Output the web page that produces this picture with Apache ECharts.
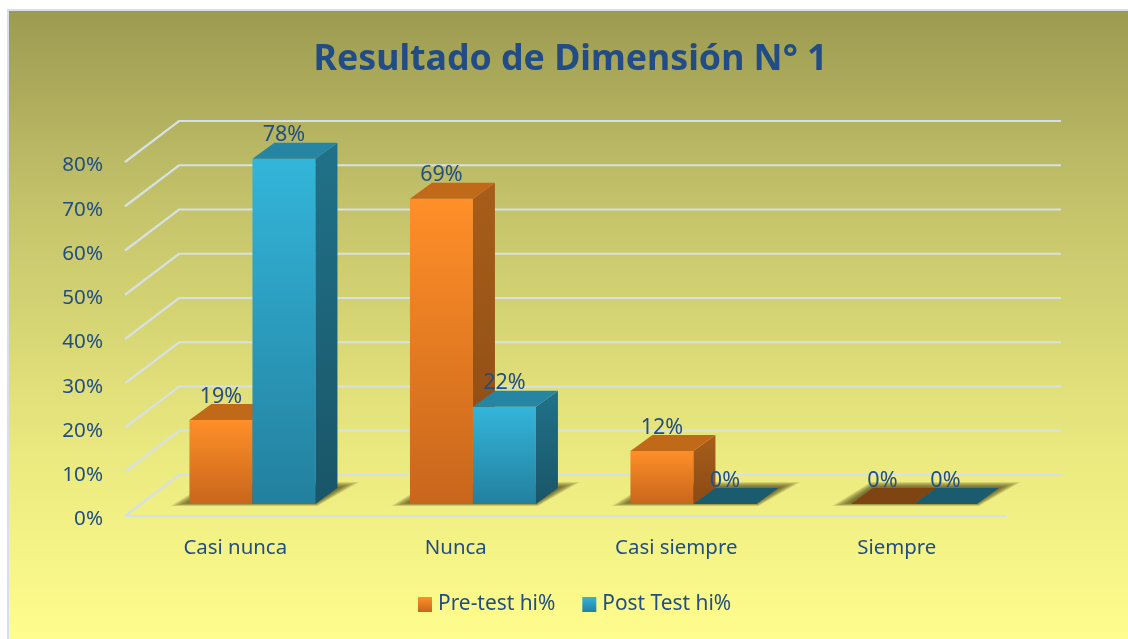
<!DOCTYPE html>
<html>
<head>
<meta charset="utf-8">
<style>html,body{margin:0;padding:0;background:#fff}#c{width:1128px;height:639px}</style>
<script src="https://cdn.jsdelivr.net/npm/echarts@6/dist/echarts.min.js"></script>
</head>
<body>
<div id="c"></div>
<script>
const titleText = 'Resultado de Dimensión N° 1';
const categories = ['Casi nunca', 'Nunca', 'Casi siempre', 'Siempre'];
const preTest = [19, 69, 12, 0];
const postTest = [78, 22, 0, 0];
const gridValues = [0, 10, 20, 30, 40, 50, 60, 70, 80];

const FONT = '"Noto Sans","Open Sans",sans-serif';
const TXT = '#234E82';
const WALL = [54, -41], DEPTH = [22, -16], FRONT_INSET = [17.2, -12];

function v(c1, c2) {
  return { type: 'linear', x: 0, y: 0, x2: 0, y2: 1, colorStops: [{ offset: 0, color: c1 }, { offset: 1, color: c2 }] };
}
const palette = {
  pre: { front: v('#FF8F28', '#C8661C'), side: v('#A85E1A', '#8A4A14'), top: '#C06A19', flat: '#7E4512' },
  post: { front: v('#33B5DA', '#23809E'), side: v('#207289', '#1A5568'), top: '#2585A3', flat: '#1A5B6E' }
};

function barRender(pal, side) {
  return function (params, api) {
    const val = api.value(1);
    const c = api.coord([api.value(0), val]);
    const c0 = api.coord([api.value(0), 0]);
    const w = api.size([1, 0])[0] * 0.2857;
    const x0 = c[0] + FRONT_INSET[0] + (side < 0 ? -w : 0), x1 = x0 + w;
    const yb = c0[1] + FRONT_INSET[1], yt = c[1] + FRONT_INSET[1];
    const dx = DEPTH[0], dy = DEPTH[1];
    const kids = [];
    if (val > 0) {
      kids.push({ type: 'rect', shape: { x: x0, y: yt, width: w, height: yb - yt }, style: { fill: pal.front } });
      kids.push({ type: 'polygon', shape: { points: [[x1, yb], [x1, yt], [x1 + dx, yt + dy], [x1 + dx, yb + dy]] }, style: { fill: pal.side } });
    }
    kids.push({ type: 'polygon', shape: { points: [[x0, yt], [x1, yt], [x1 + dx, yt + dy], [x0 + dx, yt + dy]] }, style: { fill: val > 0 ? pal.top : pal.flat } });
    kids.push({
      type: 'text', z2: 100,
      style: { text: val + '%', x: (x0 + x1) / 2, y: yt + dy - 7.5, textAlign: 'center', textVerticalAlign: 'middle', font: '21.5px ' + FONT, fill: TXT }
    });
    return { type: 'group', children: kids };
  };
}

// Soft ground shadow: nested translucent floor polygons fading outward.
function shadowRender(params, api) {
  const c0 = api.coord([api.value(0), 0]);
  const w = api.size([1, 0])[0] * 0.2857;
  const x0 = c0[0] + FRONT_INSET[0] - w, x1 = x0 + 2 * w;
  const yb = c0[1] + FRONT_INSET[1];
  const kids = [];
  for (let k = 9; k >= 0; k--) {
    const g = k / 9;
    const top = yb - 17 - 5 * g, bot = yb + 3 * g - 1;
    kids.push({
      type: 'polygon',
      shape: { points: [[x0 - 2 - 17 * g, bot], [x1 + 2 * g, bot], [x1 + DEPTH[0] + 3 + 19 * g, top], [x0 + DEPTH[0] - 2 * g, top]] },
      style: { fill: 'rgba(72,66,22,0.11)' }
    });
  }
  return { type: 'group', children: kids };
}

function wallRender(params, api) {
  const val = api.value(0);
  const cs = params.coordSys;
  const y = api.coord([0, val])[1];
  const xl = cs.x, xr = cs.x + cs.width;
  const line = { stroke: '#D6E1E6', lineWidth: 2.2, fill: null };
  const kids = [{ type: 'polyline', shape: { points: [[xl, y], [xl + WALL[0], y + WALL[1]], [xr + WALL[0], y + WALL[1]]] }, style: line }];
  if (val === 0) kids.push({ type: 'line', shape: { x1: xl, y1: y, x2: xr, y2: y }, style: line });
  return { type: 'group', children: kids };
}

const chart = echarts.init(document.getElementById('c'), null, { renderer: 'canvas' });
chart.setOption({
  animation: false,
  backgroundColor: '#fff',
  graphic: [{
    type: 'rect', z: -10, silent: true,
    shape: { x: 8, y: 10, width: 1122, height: 631 },
    style: {
      fill: {
        type: 'linear', x: 0, y: 0, x2: 0, y2: 1,
        colorStops: [{ offset: 0, color: '#9C9A50' }, { offset: 0.3, color: '#C3C26A' }, { offset: 0.7, color: '#EAE97F' }, { offset: 1, color: '#FFFD8D' }]
      },
      stroke: '#D7E0EA', lineWidth: 2
    }
  }],
  title: {
    text: titleText, left: 565.5, top: 37, textAlign: 'center',
    textStyle: { fontFamily: FONT, fontSize: 35.7, fontWeight: 'bold', color: '#214C85' }
  },
  grid: { left: 125, top: 162, width: 882, height: 354, containLabel: false },
  xAxis: {
    type: 'category', data: categories, boundaryGap: true,
    axisLine: { show: false }, axisTick: { show: false }, splitLine: { show: false },
    axisLabel: { margin: 22, fontFamily: FONT, fontSize: 20.4, color: TXT }
  },
  yAxis: {
    type: 'value', min: 0, max: 80, interval: 10,
    axisLine: { show: false }, axisTick: { show: false }, splitLine: { show: false },
    axisLabel: { margin: 22, fontFamily: FONT, fontSize: 20.6, color: TXT, verticalAlign: 'top', lineHeight: 7, formatter: '{value}%' }
  },
  legend: {
    left: 413, top: 589, itemWidth: 14, itemHeight: 15, itemGap: 27,
    icon: 'rect', data: ['Pre-test hi%', 'Post Test hi%'],
    textStyle: { fontFamily: FONT, fontSize: 20.9, color: TXT, padding: [2, 0, 0, 1] }
  },
  series: [
    { type: 'custom', name: 'walls', silent: true, z: 1, coordinateSystem: 'cartesian2d', data: gridValues.map(g => [g]), encode: { y: 0 }, renderItem: wallRender },
    { type: 'custom', name: 'shadow', silent: true, z: 2, data: categories.map((_, i) => [i, 0]), encode: { x: 0, y: 1 }, renderItem: shadowRender },
    { type: 'custom', name: 'Pre-test hi%', z: 3, data: preTest.map((d, i) => [i, d]), encode: { x: 0, y: 1 }, itemStyle: { color: palette.pre.front }, renderItem: barRender(palette.pre, -1) },
    { type: 'custom', name: 'Post Test hi%', z: 4, data: postTest.map((d, i) => [i, d]), encode: { x: 0, y: 1 }, itemStyle: { color: palette.post.front }, renderItem: barRender(palette.post, 1) }
  ]
});
</script>
</body>
</html>
